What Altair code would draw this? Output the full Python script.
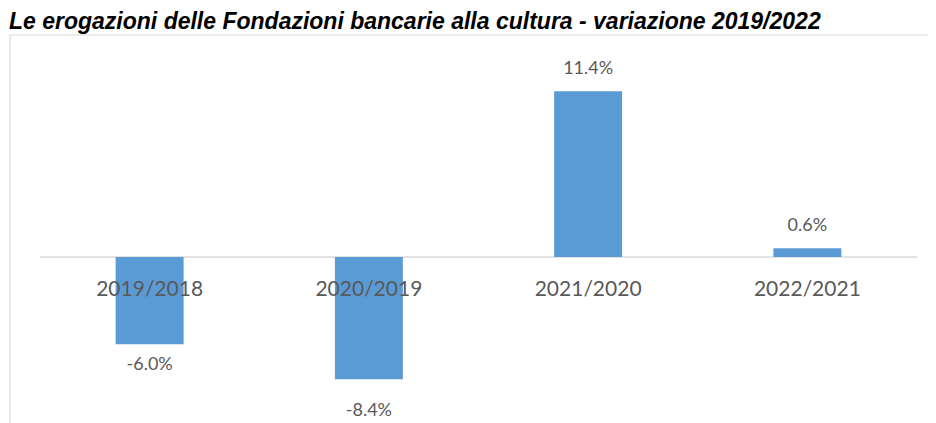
import altair as alt
import pandas as pd

categories = ["2019/2018", "2020/2019", "2021/2020", "2022/2021"]
values = [-6.0, -8.4, 11.4, 0.6]
value_labels = ["-6.0%", "-8.4%", "11.4%", "0.6%"]
title_text = "Le erogazioni delle Fondazioni bancarie alla cultura - variazione 2019/2022"

df = pd.DataFrame({"cat": categories, "val": values, "lab": value_labels})
df["sign"] = ["neg" if v < 0 else "pos" for v in values]
df["zero"] = 0.0
tdf = pd.DataFrame({"t": [title_text], "zero": [0.0]})

W = 877
H = 388
FONT = "Lato"
GREY = "#595959"

x = alt.X("cat:N", sort=categories, axis=None,
          scale=alt.Scale(paddingInner=0.69, paddingOuter=0.345))
yscale = alt.Scale(domain=[-11.41, 15.26], nice=False, zero=False)
y = alt.Y("val:Q", axis=None, scale=yscale)
yzero = alt.Y("zero:Q", axis=None, scale=yscale)

base = alt.Chart(df)

frame_left = alt.Chart(tdf).mark_rule(color="#d9d9d9", strokeWidth=1.2).encode(
    x=alt.value(-30), y=alt.value(0), y2=alt.value(H + 60)
)
frame_top = alt.Chart(tdf).mark_rule(color="#d9d9d9", strokeWidth=1.2).encode(
    x=alt.value(-30), x2=alt.value(W + 60), y=alt.value(0)
)

bars = base.mark_bar(color="#5b9bd5").encode(x=x, y=y, y2="zero:Q")

zero = alt.Chart(tdf).mark_rule(color="#d9d9d9", strokeWidth=1.6).encode(
    y=yzero, x=alt.value(0), x2=alt.value(W)
)

pos_labels = base.transform_filter(alt.datum.sign == "pos").mark_text(
    font=FONT, fontSize=18, color=GREY, baseline="alphabetic", dy=-17
).encode(x=x, y=y, text="lab:N")

neg_labels = base.transform_filter(alt.datum.sign == "neg").transform_calculate(
    ly="datum.val * 1.30"
).mark_text(
    font=FONT, fontSize=18, color=GREY, baseline="alphabetic"
).encode(x=x, y=alt.Y("ly:Q", axis=None, scale=yscale), text="lab:N")

cat_labels = base.mark_text(
    font=FONT, fontSize=21, color=GREY, baseline="middle", dy=33
).encode(x=x, y=yzero, text="cat:N")

title = alt.Chart(tdf).mark_text(
    font="Liberation Sans", fontSize=23, fontStyle="italic", fontWeight="bold", color="black",
    align="left", baseline="alphabetic"
).encode(x=alt.value(-31), y=alt.value(-6), text="t:N")

chart = alt.layer(frame_left, frame_top, zero, bars, pos_labels, neg_labels, cat_labels, title).properties(
    width=W, height=H,
    padding={"left": 32, "top": 27, "right": 11, "bottom": 0},
    autosize=alt.AutoSizeParams(type="none"),
).configure_view(strokeWidth=0)

chart.save("out.html", embed_options={"renderer": "svg", "actions": False})
